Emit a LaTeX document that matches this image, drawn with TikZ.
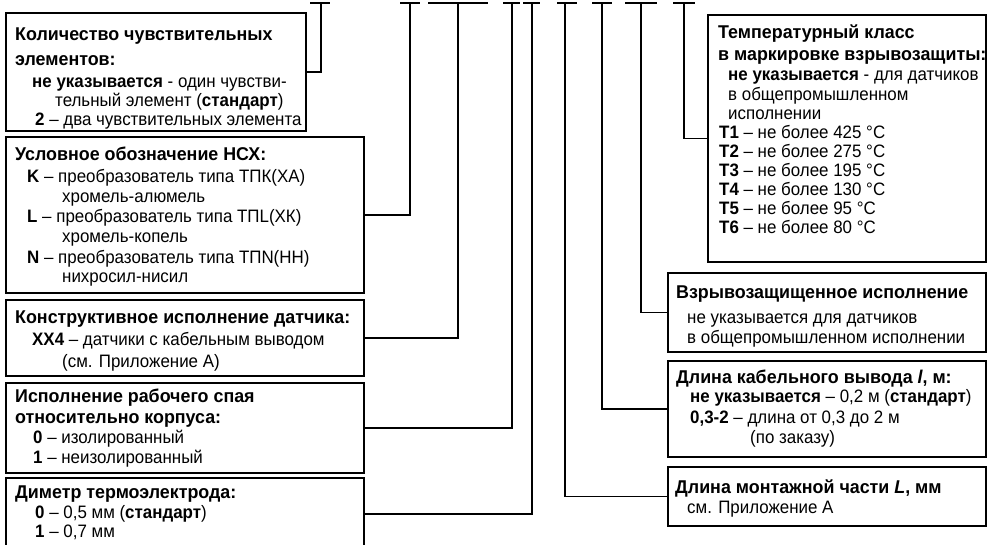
\documentclass[tikz,border=0pt]{standalone}
\usepackage{fontspec}
\setmainfont{Liberation Sans}[FakeStretch=0.94]
\newfontfamily\hdfam{Liberation Sans}[FakeStretch=0.965]
\newcommand{\hdfont}{\hdfam\fontsize{18.5}{20}\selectfont\bfseries}
\newcommand{\bdfont}{\fontsize{18}{19}\selectfont}
\begin{document}
\begin{tikzpicture}[x=1pt,y=-1pt,
  frame/.style={draw=black, line width=2.4pt, inner sep=0, fill=none},
  conn/.style={draw=black, line width=1.9pt},
  hd/.style={anchor=base west, inner sep=0, font=\hdfont},
  bd/.style={anchor=base west, inner sep=0, font=\bdfont}]
\useasboundingbox (0,0) rectangle (991,544);
% boxes (left)
\node[frame, minimum width=300pt, minimum height=118pt] (b1) at (156,72) {};
\node[frame, minimum width=358pt, minimum height=156pt] (b2) at (185,215) {};
\node[frame, minimum width=358pt, minimum height=76pt] (b3) at (185,338) {};
\node[frame, minimum width=358pt, minimum height=90pt] (b4) at (185,428) {};
\node[frame, minimum width=358pt, minimum height=72pt] (b5) at (185,514) {};
% boxes (right)
\node[frame, minimum width=278pt, minimum height=247pt] (r1) at (847,138.5) {};
\node[frame, minimum width=318pt, minimum height=79pt] (r2) at (827,312.5) {};
\node[frame, minimum width=318pt, minimum height=96pt] (r3) at (827,409) {};
\node[frame, minimum width=318pt, minimum height=59pt] (r4) at (827,496.5) {};
% T tops
\coordinate (t1) at (321,3); \coordinate (t2) at (410,3); \coordinate (t3) at (458,3);
\coordinate (t4) at (512,3); \coordinate (t5) at (532,3); \coordinate (t6) at (565,3);
\coordinate (t7) at (602,3); \coordinate (t8) at (641,3); \coordinate (t9) at (684,3);
\draw[conn] (310,3) -- (330,3) (400,3) -- (420,3) (428,3) -- (488,3)
  (503,3) -- (520,3) (523,3) -- (540,3) (557,3) -- (577,3)
  (592,3) -- (612,3) (625,3) -- (657,3) (673,3) -- (695,3);
\draw[conn] (t1) |- (b1.east);
\draw[conn] (t2) |- (b2.east);
\draw[conn] (t3) |- (b3.east);
\draw[conn] (t4) |- (b4.east);
\draw[conn] (t5) |- (b5.east);
\draw[conn] (t6) |- (r4.west);
\draw[conn] (t7) |- (r3.west);
\draw[conn] (t8) |- (r2.west);
\draw[conn] (t9) |- (r1.west);
% box 1
\node[hd] (a1) at (15,40) {Количество чувствительных};
\node[hd] (a2) at (15,65) {элементов:};
\node[bd] (a3) at (32,87) {\textbf{не указывается} - один чувстви-};
\node[bd] (a4) at (55,106) {тельный элемент (\textbf{стандарт})};
\node[bd] (a5) at (35,125) {\textbf{2} – два чувствительных элемента};
% box 2
\node[hd] (c1) at (15,160) {Условное обозначение НСХ:};
\node[bd] (c2) at (27,182) {\textbf{K} – преобразователь типа ТПК(ХА)};
\node[bd] (c3) at (62,202) {хромель-алюмель};
\node[bd] (c4) at (27,222) {\textbf{L} – преобразователь типа ТПL(ХК)};
\node[bd] (c5) at (62,242) {хромель-копель};
\node[bd] (c6) at (27,263) {\textbf{N} – преобразователь типа ТПN(НН)};
\node[bd] (c7) at (62,282) {нихросил-нисил};
% box 3
\node[hd] (d1) at (15,323) {Конструктивное исполнение датчика:};
\node[bd] (d2) at (32,345) {\textbf{ХХ4} – датчики с кабельным выводом};
\node[bd] (d3) at (62,367) {(см. Приложение А)};
% box 4
\node[hd] (e1) at (15,402) {Исполнение рабочего спая};
\node[hd] (e2) at (15,423) {относительно корпуса:};
\node[bd] (e3) at (33,443) {\textbf{0} – изолированный};
\node[bd] (e4) at (33,463) {\textbf{1} – неизолированный};
% box 5
\node[hd] (f1) at (15,498) {Диметр термоэлектрода:};
\node[bd] (f2) at (35,518) {\textbf{0} – 0,5 мм (\textbf{стандарт})};
\node[bd] (f3) at (35,537) {\textbf{1} – 0,7 мм};
% right box 1
\node[hd] (g1) at (718,38) {Температурный класс};
\node[hd] (g2) at (718,60) {в маркировке взрывозащиты:};
\node[bd] (g3) at (728,80) {\textbf{не указывается} - для датчиков};
\node[bd] (g4) at (728,100) {в общепромышленном};
\node[bd] (g5) at (728,119) {исполнении};
\node[bd] (g6) at (719,138) {\textbf{Т1} – не более 425 °C};
\node[bd] (g7) at (719,157) {\textbf{Т2} – не более 275 °C};
\node[bd] (g8) at (719,176) {\textbf{Т3} – не более 195 °C};
\node[bd] (g9) at (719,195) {\textbf{Т4} – не более 130 °C};
\node[bd] (g10) at (719,214) {\textbf{Т5} – не более 95 °C};
\node[bd] (g11) at (719,233) {\textbf{Т6} – не более 80 °C};
% right box 2
\node[hd] (h1) at (676,298) {Взрывозащищенное исполнение};
\node[bd] (h2) at (687,323) {не указывается для датчиков};
\node[bd] (h3) at (687,343) {в общепромышленном исполнении};
% right box 3
\node[hd] (k1) at (676,383) {Длина кабельного вывода \textit{l}, м:};
\node[bd] (k2) at (690,402) {\textbf{не указывается} – 0,2 м (\textbf{стандарт})};
\node[bd] (k3) at (690,423) {\textbf{0,3-2} – длина от 0,3 до 2 м};
\node[bd] (k4) at (750,443) {(по заказу)};
% right box 4
\node[hd] (m1) at (675,493) {Длина монтажной части \textit{L}, мм};
\node[bd] (m2) at (687,513) {см. Приложение А};
\end{tikzpicture}
\end{document}
